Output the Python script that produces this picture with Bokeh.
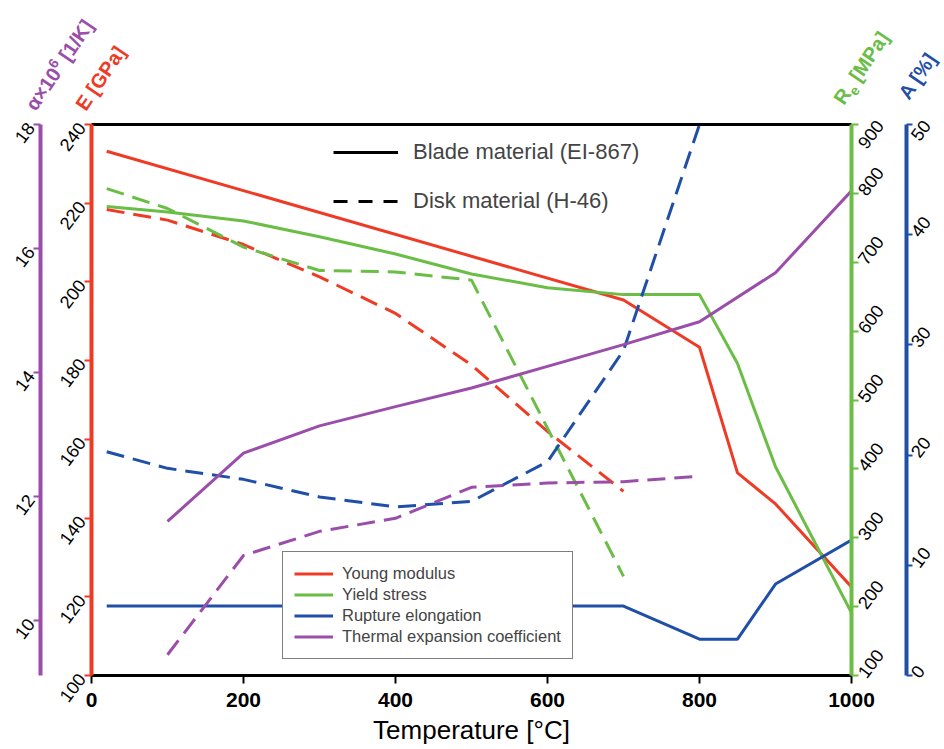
import math
from bokeh.plotting import figure
from bokeh.layouts import column
from bokeh.models import Range1d, LinearAxis, FixedTicker, Legend, LegendItem, Div
from bokeh.embed import file_html
from bokeh.resources import INLINE

# ---------------- data ----------------
temp_e_blade = [20, 700, 800, 850, 900, 1000]
e_blade = [233.2, 195.4, 183.4, 151.5, 143.6, 122.5]
temp_e_disk = [20, 100, 200, 300, 400, 500, 600, 700]
e_disk = [218.4, 215.7, 209.5, 201.3, 192.0, 178.9, 162.0, 146.8]

temp_re_blade = [20, 100, 200, 300, 400, 500, 600, 700, 800, 850, 900, 1000]
re_blade = [781, 773, 760, 737, 712, 683, 663, 653, 653, 553, 403, 191]
temp_re_disk = [20, 100, 200, 300, 400, 500, 700]
re_disk = [807, 778, 722, 688, 686, 674, 244]

temp_a_blade = [20, 700, 800, 850, 900, 1000]
a_blade = [6.3, 6.3, 3.3, 3.3, 8.3, 12.3]
temp_a_disk = [20, 100, 200, 300, 400, 500, 600, 700, 800]
a_disk = [20.3, 18.8, 17.8, 16.2, 15.3, 15.8, 19.4, 29.5, 50.0]

temp_alpha_blade = [100, 200, 300, 400, 500, 600, 700, 800, 900, 1000]
alpha_blade = [11.6, 12.7, 13.14, 13.45, 13.75, 14.1, 14.45, 14.82, 15.61, 16.93]
temp_alpha_disk = [100, 200, 300, 400, 500, 600, 700, 800]
alpha_disk = [9.45, 11.05, 11.44, 11.65, 12.15, 12.22, 12.24, 12.33]

x_ticks = [0, 200, 400, 600, 800, 1000]
e_ticks = [100, 120, 140, 160, 180, 200, 220, 240]
alpha_ticks = [10, 12, 14, 16, 18]
re_ticks = [100, 200, 300, 400, 500, 600, 700, 800, 900]
a_ticks = [0, 10, 20, 30, 40, 50]

series_names = ["Young modulus", "Yield stress", "Rupture elongation", "Thermal expansion coefficient"]
style_names = ["Blade material (EI-867)", "Disk material (H-46)"]
# axis titles: (main text, raised/lowered part, shift direction, rest)
axis_titles = [("α×10", "6", "sup", " [1/K]"),
               ("E [GPa]", "", "", ""),
               ("R", "e", "sub", " [MPa]"),
               ("A [%]", "", "", "")]

RED = "#ef3b25"
GREEN = "#6abd45"
BLUE = "#1f4fa6"
PURPLE = "#9a4ea9"
FONT = "Liberation Sans"
DASH = "18 9"
LW = 3
ROT = 0.925

W = 944
TOP_H = 118
P_H = 629
FL, FT, FR, FB = 91, 124, 851, 676   # frame edges in page px

p = figure(width=W, height=P_H, output_backend="svg", toolbar_location=None,
           x_range=Range1d(0, 1000), y_range=Range1d(100, 240),
           min_border_left=FL, min_border_right=W - FR, min_border_top=FT - TOP_H,
           min_border_bottom=TOP_H + P_H - FB)
p.extra_y_ranges = {"alpha": Range1d(9.115, 18), "re": Range1d(100, 900), "a": Range1d(0, 50)}
p.xgrid.visible = False
p.ygrid.visible = False
p.outline_line_color = None


def style_axis(ax, color, ticks, size="18px", orient=ROT, bold=False, width=4, tick_out=7, standoff=3):
    ax.ticker = FixedTicker(ticks=ticks)
    ax.axis_line_color = color
    ax.axis_line_width = width
    ax.major_tick_line_color = color
    ax.major_tick_line_width = 2
    ax.major_tick_out = tick_out
    ax.major_tick_in = 0
    ax.minor_tick_line_color = None
    ax.major_label_text_font = FONT
    ax.major_label_text_font_size = size
    ax.major_label_text_color = "black"
    ax.major_label_standoff = standoff
    if bold:
        ax.major_label_text_font_style = "bold"
    if orient is not None:
        ax.major_label_orientation = orient


def spacer(ax, gap):
    ax.axis_label = " "
    ax.axis_label_text_font_size = "1px"
    ax.axis_label_standoff = gap


# bottom axis
xa = p.xaxis[0]
style_axis(xa, "black", x_ticks, size="21px", orient=None, bold=True, width=3, tick_out=8, standoff=9)
xa.axis_label = "Temperature [°C]"
xa.axis_label_text_font = FONT
xa.axis_label_text_font_size = "26px"
xa.axis_label_text_font_style = "normal"
xa.axis_label_text_color = "black"
xa.axis_label_standoff = 5

# top border
top = LinearAxis(ticker=FixedTicker(ticks=[]), axis_line_color="black", axis_line_width=3,
                 major_tick_line_color=None, minor_tick_line_color=None,
                 major_tick_out=0, major_label_standoff=0,
                 major_label_text_font_size="0px")
p.add_layout(top, "above")

# left axes
ea = p.yaxis[0]
style_axis(ea, RED, e_ticks)
spacer(ea, 5)

aa = LinearAxis(y_range_name="alpha")
style_axis(aa, PURPLE, alpha_ticks)
p.add_layout(aa, "left")

# right axes
ra = LinearAxis(y_range_name="re")
style_axis(ra, GREEN, re_ticks)
spacer(ra, 9)
p.add_layout(ra, "right")

ba = LinearAxis(y_range_name="a")
style_axis(ba, BLUE, a_ticks, tick_out=6, standoff=2)
p.add_layout(ba, "right")

# lines
r_e_b = p.line(temp_e_blade, e_blade, line_color=RED, line_width=LW)
p.line(temp_e_disk, e_disk, line_color=RED, line_width=LW, line_dash=DASH)
r_re_b = p.line(temp_re_blade, re_blade, line_color=GREEN, line_width=LW, y_range_name="re")
p.line(temp_re_disk, re_disk, line_color=GREEN, line_width=LW, line_dash=DASH, y_range_name="re")
r_a_b = p.line(temp_a_blade, a_blade, line_color=BLUE, line_width=LW, y_range_name="a")
p.line(temp_a_disk, a_disk, line_color=BLUE, line_width=LW, line_dash=DASH, y_range_name="a")
r_al_b = p.line(temp_alpha_blade, alpha_blade, line_color=PURPLE, line_width=LW, y_range_name="alpha")
p.line(temp_alpha_disk, alpha_disk, line_color=PURPLE, line_width=LW, line_dash=DASH, y_range_name="alpha")

# legend proxies (no visible data)
d_solid = p.line([math.nan], [math.nan], line_color="black", line_width=3)
d_dash = p.line([math.nan], [math.nan], line_color="black", line_width=3, line_dash="14 11")

leg1 = Legend(items=[LegendItem(label=n, renderers=[r]) for n, r in
                     zip(series_names, [r_e_b, r_re_b, r_a_b, r_al_b])],
              location=(191, 16), orientation="vertical",
              border_line_color="black", border_line_width=1.5,
              background_fill_color="white", background_fill_alpha=1,
              label_text_font=FONT, label_text_font_size="16.5px",
              glyph_width=39, glyph_height=21, label_height=21, spacing=0,
              padding=11, margin=0, label_standoff=9)
p.add_layout(leg1)

leg2 = Legend(items=[LegendItem(label=n, renderers=[r]) for n, r in
                     zip(style_names, [d_solid, d_dash])],
              location=(242, 461), orientation="vertical",
              border_line_color=None, background_fill_alpha=0,
              label_text_font=FONT, label_text_font_size="22px",
              glyph_width=65, glyph_height=24, label_height=24, spacing=23,
              padding=0, margin=0, label_standoff=15)
p.add_layout(leg2)

# rotated axis titles in a strip above the plot
title_pos = [(36, 112), (86, 112), (844, 106), (909, 101)]
title_col = [PURPLE, RED, GREEN, BLUE]
parts = []
for (tx, ty), (main, script, kind, rest), col in zip(title_pos, axis_titles, title_col):
    inner = main
    if script:
        dy = -8 if kind == "sup" else 5
        inner += (f'<tspan dy="{dy}" font-size="14">{script}</tspan>'
                  f'<tspan dy="{-dy}">{rest}</tspan>')
    parts.append(f'<text x="{tx}" y="{ty}" transform="rotate(-56 {tx} {ty})" fill="{col}" '
                 f'font-family="{FONT}" font-size="20" font-weight="bold">{inner}</text>')
svg = (f'<svg xmlns="http://www.w3.org/2000/svg" width="{W}" height="{TOP_H}" '
       f'style="display:block">' + "".join(parts) + '</svg>')
strip = Div(text=svg, width=W, height=TOP_H, styles={"margin": "0", "padding": "0"})

layout = column(strip, p, spacing=0)
open("out.html", "w").write(file_html(layout, INLINE))
